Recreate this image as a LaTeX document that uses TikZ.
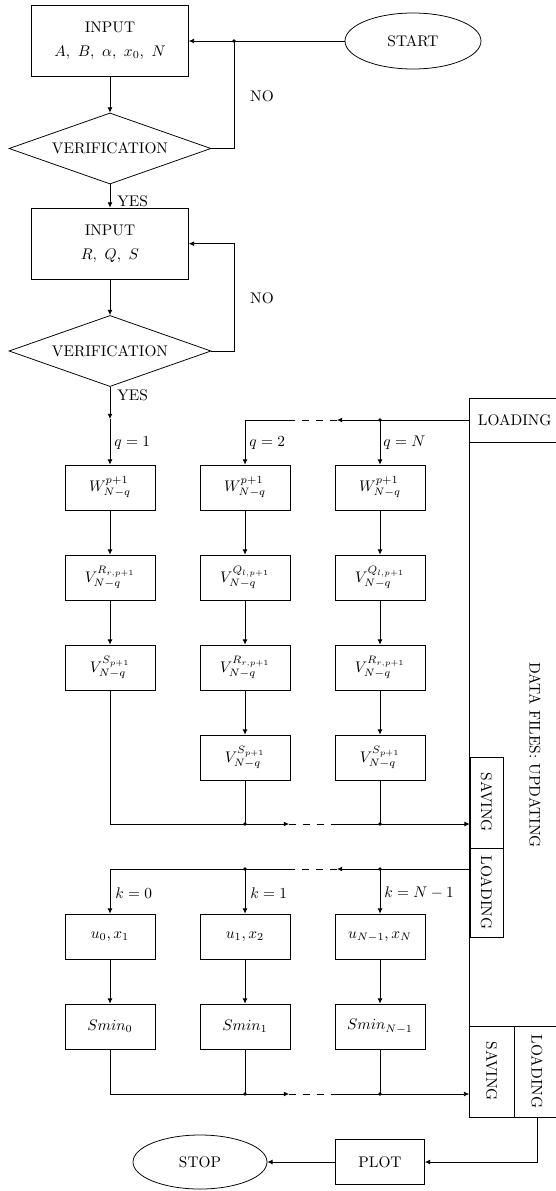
\documentclass[tikz,border=0pt]{standalone}
\usetikzlibrary{shapes.geometric,arrows.meta}
\begin{document}
\begin{tikzpicture}[x=0.65pt,y=-0.65pt,line width=0.5pt,
  every node/.style={inner sep=0pt},
  arr/.style={-{Latex[length=3.4pt,width=3.2pt]}},
  dsh/.style={dash pattern=on 4.5pt off 4.5pt},
  box/.style={draw,rectangle,minimum width=58.5pt,minimum height=29.25pt},
  inbox/.style={draw,rectangle,minimum width=102pt,minimum height=46.5pt,align=center},
  dec/.style={draw,diamond,aspect=2.85,minimum width=131.3pt,minimum height=46.2pt},
  term/.style={draw,ellipse},
  dot/.style={circle,fill,inner sep=0pt,minimum size=2.4pt},
  sidebox/.style={draw,rectangle}]
\useasboundingbox (0,0) rectangle (555,1191);

% right column
\node[sidebox,minimum width=58.8pt,minimum height=467.35pt] (files) at (514.75,757.5) {};
\node[sidebox,minimum width=58.8pt,minimum height=28.6pt] (ld1) at (514.75,420) {LOADING};
\node[sidebox,minimum width=21.45pt,minimum height=59.15pt] (sav1) at (486.5,802.5) {\rotatebox{-90}{SAVING}};
\node[sidebox,minimum width=21.45pt,minimum height=57.85pt] (ld2) at (486.5,892.5) {\rotatebox{-90}{LOADING}};
\node[sidebox,minimum width=28.9pt,minimum height=59.15pt] (sav3) at (491.75,1071.5) {\rotatebox{-90}{SAVING}};
\node[sidebox,minimum width=29.9pt,minimum height=59.15pt] (ld3) at (537,1071.5) {\rotatebox{-90}{LOADING}};
\node (df) at (535,755) {\rotatebox{-90}{DATA FILES: UPDATING}};

% top part
\node[inbox] (in1) at (110,41) {INPUT\\[3.5pt]$A,\ B,\ \alpha,\ x_0,\ N$};
\node[term,minimum width=88.4pt,minimum height=36.4pt] (start) at (413,41) {START};
\coordinate (j1) at (234,41);
\node[dec] (d1) at (110,148.5) {VERIFICATION};
\node[inbox] (in2) at (110,243.7) {INPUT\\[3.5pt]$R,\ Q,\ S$};
\node[dec] (d2) at (110,351) {VERIFICATION};
\coordinate (l2) at (234,351);
\coordinate (y2) at (110,419);

\draw[arr] (start.west) -- (in1.east);
\draw (d1.east) -| (j1);
\node[dot] (j1d) at (j1) {};
\draw[arr] (in1.south) -- (d1.north);
\draw[arr] (d1.south) -- (in2.north);
\draw[arr] (in2.south) -- (d2.north);
\draw[arr] (d2.east) -- (l2) |- (in2.east);
\draw[arr] (d2.south) -- (y2);
\node (no1) at (262,96) {NO};
\node (no2) at (262,298) {NO};
\node[anchor=west] (yes1) at (117,201) {YES};
\node[anchor=west] (yes2) at (117,395) {YES};

% q columns
\node[box] (w1) at (110,487.5) {$W^{p+1}_{N-q}$};
\node[box] (v1a) at (110,577.5) {$V^{R_{r,p+1}}_{N-q}$};
\node[box] (v1b) at (110,667.5) {$V^{S_{p+1}}_{N-q}$};
\node[box] (w2) at (245,487.5) {$W^{p+1}_{N-q}$};
\node[box] (v2a) at (245,577.5) {$V^{Q_{l,p+1}}_{N-q}$};
\node[box] (v2b) at (245,667.5) {$V^{R_{r,p+1}}_{N-q}$};
\node[box] (v2c) at (245,757.5) {$V^{S_{p+1}}_{N-q}$};
\node[box] (w3) at (380,487.5) {$W^{p+1}_{N-q}$};
\node[box] (v3a) at (380,577.5) {$V^{Q_{l,p+1}}_{N-q}$};
\node[box] (v3b) at (380,667.5) {$V^{R_{r,p+1}}_{N-q}$};
\node[box] (v3c) at (380,757.5) {$V^{S_{p+1}}_{N-q}$};

\draw[arr] (y2) -- (w1.north);
\node[anchor=west] (q1) at (114,443) {$q=1$};
\node[anchor=west] (q2) at (249,443) {$q=2$};
\node[anchor=west] (qn) at (383,443) {$q=N$};

\coordinate (t3) at (380,420);
\coordinate (ta) at (337,420);
\coordinate (tb) at (290,420);
\draw[arr] (ld1.west) -- (ta);
\draw[dsh] (ta) -- (tb);
\draw[arr] (tb) -| (w2.north);
\draw[arr] (t3) -- (w3.north);
\node[dot] (t3d) at (t3) {};

\draw[arr] (w1) -- (v1a);
\draw[arr] (v1a) -- (v1b);
\draw[arr] (w2) -- (v2a);
\draw[arr] (v2a) -- (v2b);
\draw[arr] (v2b) -- (v2c);
\draw[arr] (w3) -- (v3a);
\draw[arr] (v3a) -- (v3b);
\draw[arr] (v3b) -- (v3c);

\coordinate (ca) at (289,824);
\coordinate (cb) at (335,824);
\coordinate (c2) at (245,824);
\coordinate (c3) at (380,824);
\draw[arr] (v1b.south) |- (ca);
\draw (v2c.south) -- (c2);
\draw (v3c.south) -- (c3);
\draw[dsh] (ca) -- (cb);
\draw[arr] (cb) -- (sav1.west |- cb);
\node[dot] (c2d) at (c2) {};
\node[dot] (c3d) at (c3) {};

% k columns
\node[box] (u1) at (110,936.5) {$u_0,x_1$};
\node[box] (u2) at (245,936.5) {$u_1,x_2$};
\node[box] (u3) at (380,936.5) {$u_{N-1},x_N$};
\node[box] (s1) at (110,1026.5) {$Smin_0$};
\node[box] (s2) at (245,1026.5) {$Smin_1$};
\node[box] (s3) at (380,1026.5) {$Smin_{N-1}$};

\coordinate (ka) at (337,869);
\coordinate (kb) at (290,869);
\coordinate (k2) at (245,869);
\coordinate (k3) at (380,869);
\draw[arr] (ld2.west |- k3) -- (ka);
\draw[dsh] (ka) -- (kb);
\draw[arr] (kb) -| (u1.north);
\draw[arr] (k2) -- (u2.north);
\draw[arr] (k3) -- (u3.north);
\node[dot] (k2d) at (k2) {};
\node[dot] (k3d) at (k3) {};
\node[anchor=west] (k0l) at (115,893) {$k=0$};
\node[anchor=west] (k1l) at (250,893) {$k=1$};
\node[anchor=west] (knl) at (384,893) {$k=N-1$};

\draw[arr] (u1) -- (s1);
\draw[arr] (u2) -- (s2);
\draw[arr] (u3) -- (s3);

\coordinate (ea) at (289,1094);
\coordinate (eb) at (335,1094);
\coordinate (e2) at (245,1094);
\coordinate (e3) at (380,1094);
\draw[arr] (s1.south) |- (ea);
\draw (s2.south) -- (e2);
\draw (s3.south) -- (e3);
\draw[dsh] (ea) -- (eb);
\draw[arr] (eb) -- (sav3.west |- eb);
\node[dot] (e2d) at (e2) {};
\node[dot] (e3d) at (e3) {};

% bottom
\node[box,minimum width=57.9pt] (plot) at (380,1162) {PLOT};
\node[term,minimum width=87.1pt,minimum height=35.1pt] (stop) at (200,1162) {STOP};
\draw[arr] (ld3.south) |- (plot.east);
\draw[arr] (plot.west) -- (stop.east);
\end{tikzpicture}
\end{document}
